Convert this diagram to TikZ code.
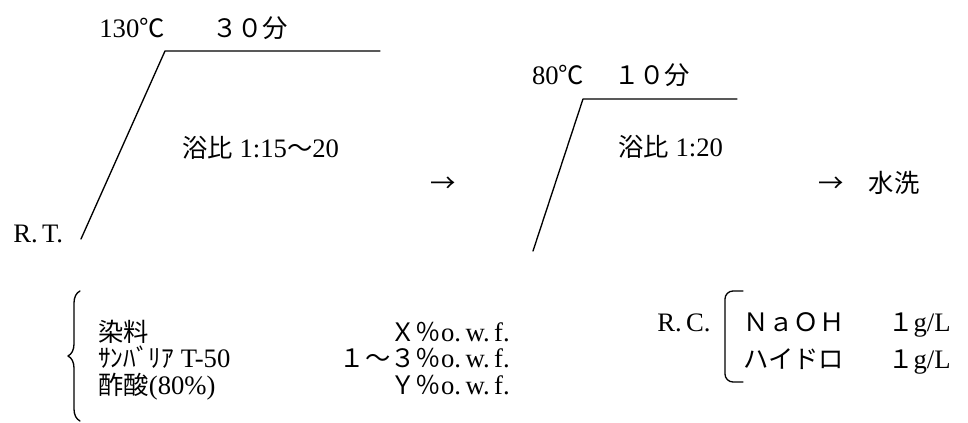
\documentclass[tikz,border=0pt]{standalone}
\usepackage{fontspec}
\setmainfont{Liberation Serif}
\newfontfamily\jp[Scale=0.95]{Noto Sans CJK JP}
\usetikzlibrary{decorations.pathreplacing}
\begin{document}
\begin{tikzpicture}[x=0.75pt,y=-0.75pt,line join=round,line cap=round]
	\tikzset{txt/.style={inner sep=0pt,text height=16pt,text depth=1.5pt,
			font=\fontsize{20}{24}\selectfont},
		curve/.style={line width=1pt}}
	\useasboundingbox (0,0) rectangle (968,423);
	%%Dyeing step
	\coordinate (rt) at (81,239);
	\coordinate (hot) at (165,51);
	\coordinate (hotend) at (380,51);
	\draw[curve] (rt)--(hot)--(hotend);
	\node[txt,anchor=west] (rtlbl) at (13,233) {R.\,T.};
	\node[txt] (temp1) at (132,28) {130{\jp ℃}};
	\node[txt] (time1) at (250,28) {\jp ３０分};
	\node[txt,anchor=west] (ratio1) at (182,148) {{\jp 浴比} 1:15{\jp ～}20};
	\node[txt] (arr1) at (443,183) {\jp →};
	%%Reduction clearing step
	\coordinate (rc0) at (533,251);
	\coordinate (warm) at (583,99);
	\coordinate (warmend) at (737,99);
	\draw[curve] (rc0)--(warm)--(warmend);
	\node[txt] (temp2) at (558,75) {80{\jp ℃}};
	\node[txt] (time2) at (652,75) {\jp １０分};
	\node[txt,anchor=west] (ratio2) at (618,147) {{\jp 浴比} 1:20};
	\node[txt,anchor=west] (wash) at (818,183) {\jp →　水洗};
	%%Dye bath recipe
	\draw[curve,decorate,decoration={brace,amplitude=9pt}] (80,421)--(80,291);
	\foreach \i/\y/\name/\amount in {1/332/{{\jp 染料}}/{{\jp Ｘ％}},
		2/358/{{\jp ｻﾝﾊﾞﾘｱ} T-50}/{{\jp １～３％}},
		3/385/{{\jp 酢酸}(80\%)}/{{\jp Ｙ％}}}{
		\node[txt,anchor=west] (chem\i) at (98,\y) {\name};
		\node[txt,anchor=east] (dose\i) at (510,\y) {\amount o.\,w.\,f.};
	}
	%%R.C. recipe
	\node[txt,anchor=west] (rclbl) at (657,322) {R.\,C.};
	\draw[curve,rounded corners=6pt] (743,291)--(725,291)--(725,382)--(743,382);
	\node[txt,anchor=west] (naoh) at (743,322) {\jp ＮａＯＨ};
	\node[txt,anchor=west] (naohamt) at (888,322) {{\jp １}g/L};
	\node[txt,anchor=west] (hydro) at (743,359) {\jp ハイドロ};
	\node[txt,anchor=west] (hydroamt) at (888,359) {{\jp １}g/L};
\end{tikzpicture}
\end{document}
